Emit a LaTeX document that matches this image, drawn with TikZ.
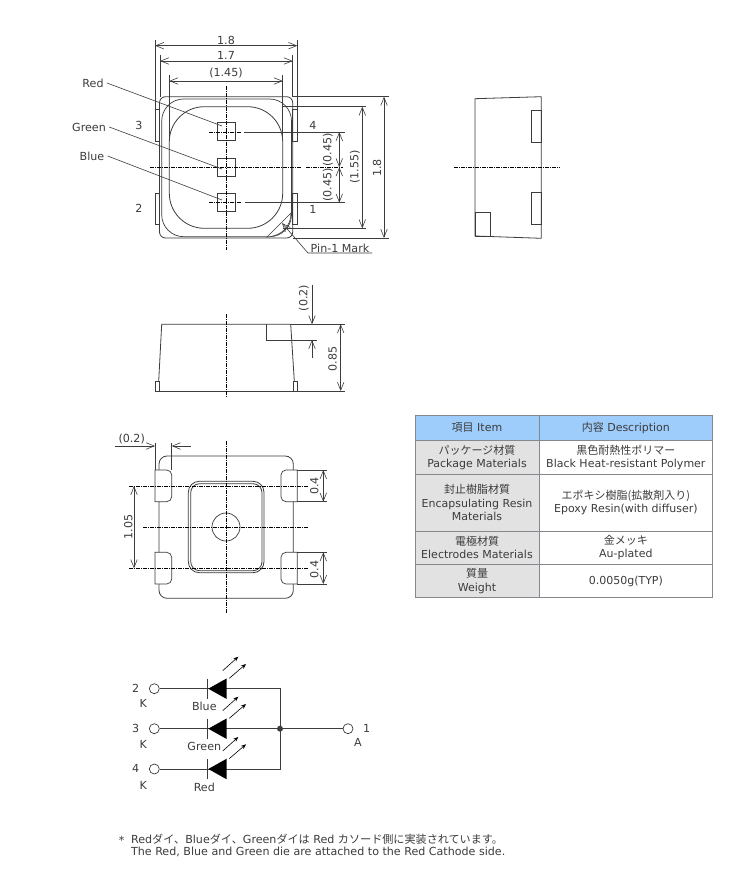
\documentclass[tikz,border=0pt]{standalone}
\usepackage{fontspec}
\setmainfont{DejaVu Sans}
\newfontfamily\cjk{Noto Sans CJK JP}
\usetikzlibrary{arrows.meta}
\definecolor{inkgray}{HTML}{3C3C3C}
\definecolor{headblue}{HTML}{9FCDFB}
\definecolor{cellgray}{HTML}{E2E2E2}
\definecolor{rulegray}{HTML}{84898E}
\newcommand{\jp}[1]{{\cjk #1}}
\begin{document}
\begin{tikzpicture}[x=1pt,y=-1pt,line width=0.8pt,draw=inkgray,text=inkgray,font=\fontsize{11.1}{13}\selectfont,>={Straight Barb[length=8pt,width=6.5pt]}]
    \tikzstyle{label}=[inner sep=0pt];
    \tikzstyle{thin line}=[line width=0.6pt];
    \tikzstyle{center line}=[line width=0.8pt,draw=black,dash pattern=on 4pt off 1pt on 1pt off 1pt];
    \tikzstyle{dim}=[<->,line width=0.6pt];
    \tikzstyle{pad}=[line width=0.7pt,fill=white];
    \tikzstyle{cell}=[draw=rulegray,line width=0.8pt,inner sep=0pt,align=center,font=\fontsize{11}{13.4}\selectfont];
    \tikzstyle{terminal}=[circle,draw,fill=white,minimum size=10pt,inner sep=0pt,line width=0.7pt];
    \useasboundingbox (0,0) rectangle (739,877);
    \fill[white] (0,0) rectangle (739,877);

    % Top view
    \draw[thin line] (155,109) rectangle (159.5,141.5);
    \draw[thin line] (155,193) rectangle (159.5,224);
    \draw[thin line] (292.7,109) rectangle (297.3,141.5);
    \draw[thin line] (292.7,193) rectangle (297.3,224);
    \draw[rounded corners=6pt,line width=0.8pt] (159.5,96.7) rectangle (292.7,238);
    \draw[rounded corners=22pt,line width=0.7pt] (161.7,99) rectangle (291.5,236.7);
    \draw[rounded corners=35pt,line width=0.8pt] (169.3,106.7) rectangle (282.7,228.3);
    \draw[thin line,fill=white] (267,237) -- (291,213) .. controls (291,225) and (283,236) .. (267,237) -- cycle;
    \draw[thin line] (217.3,122.7) rectangle (235.3,140.7);
    \draw[thin line] (217.3,158.3) rectangle (235.3,176.7);
    \draw[thin line] (217.3,193.3) rectangle (235.3,211.7);
    \draw[center line] (226,86) -- (226,250);
    \draw[center line] (150,167.3) -- (301.7,167.3);
    \draw[center line] (306,167.3) -- (343,167.3);
    \draw[center line] (209,132) -- (241.7,132);
    \draw[center line] (209,202.7) -- (241.7,202.7);
    \draw[thin line] (244,132) -- (345,132);
    \draw[thin line] (245,202.7) -- (345,202.7);
    % Top view dimensions
    \draw[thin line] (155,40) -- (155,109);
    \draw[thin line] (297.3,40) -- (297.3,109);
    \draw[thin line] (160,55) -- (160,97);
    \draw[thin line] (292.7,55) -- (292.7,97);
    \draw[thin line] (169.3,75) -- (169.3,140);
    \draw[thin line] (282.7,75) -- (282.7,140);
    \draw[dim] (155,45.7) -- (297.3,45.7);
    \draw[dim] (160,61) -- (292.7,61);
    \draw[dim] (169.3,81) -- (282.7,81);
    \node[label] (topW) at (226,40) {1.8};
    \node[label] (bodyW) at (226,55.5) {1.7};
    \node[label] (lensW) at (226,73) {(1.45)};
    \draw[thin line] (292.7,96.7) -- (389,96.7);
    \draw[thin line] (292.7,238) -- (389,238);
    \draw[thin line] (282.7,106.7) -- (366,106.7);
    \draw[thin line] (282.7,228.3) -- (366,228.3);
    \draw[dim] (339.3,132) -- (339.3,167.3);
    \draw[dim] (339.3,167.3) -- (339.3,202.7);
    \draw[dim] (362.3,106.7) -- (362.3,228.3);
    \draw[dim] (384,96.7) -- (384,238);
    \node[label,rotate=90] (dieUp) at (328,150) {(0.45)};
    \node[label,rotate=90] (dieDown) at (328,185) {(0.45)};
    \node[label,rotate=90] (lensH) at (355,167) {(1.55)};
    \node[label,rotate=90] (topH) at (377,168) {1.8};
    % Die labels and pins
    \node[label] (lblRed) at (93,83) {Red};
    \node[label] (lblGreen) at (89,127) {Green};
    \node[label] (lblBlue) at (92,156) {Blue};
    \coordinate (dieRed) at (222,126);
    \coordinate (dieGreen) at (222,169);
    \coordinate (dieBlue) at (222,200);
    \draw[thin line] (lblRed.east) ++(3,0) -- (dieRed);
    \draw[thin line] (lblGreen.east) ++(3,0) -- (dieGreen);
    \draw[thin line] (lblBlue.east) ++(3,0) -- (dieBlue);
    \node[label] (pinThree) at (139,125) {3};
    \node[label] (pinFour) at (313,125.7) {4};
    \node[label] (pinTwo) at (139,208) {2};
    \node[label] (pinOne) at (313,209) {1};
    \node[label] (lblMark) at (340,248) {Pin-1 Mark};
    \coordinate (markTip) at (282,223);
    \draw[thin line,->] (372,253) -- (308,253) -- (markTip);

    % Side view
    \draw (475,98.7) -- (541.3,96.7) -- (541.3,238.3) -- (475,236) -- cycle;
    \draw[thin line] (531.7,110.3) rectangle (541.3,142);
    \draw[thin line] (531.7,192.7) rectangle (541.3,224.3);
    \draw[thin line] (475,212.3) rectangle (490.7,236.7);
    \draw[center line] (454.3,167.3) -- (560,167.3);

    % Front view
    \draw (158.7,381) -- (161.7,324.3) -- (290.7,324.3) -- (294.3,381);
    \draw (155,391) -- (297.3,391);
    \draw[thin line] (155,391) -- (155,381) -- (159.3,381) -- (159.3,391);
    \draw[thin line] (293.3,391) -- (293.3,381) -- (297.3,381) -- (297.3,391);
    \draw[thin line] (266.7,324.3) -- (266.7,340) -- (316.7,340);
    \draw[thin line] (290.7,324.3) -- (345,324.3);
    \draw[thin line] (297.3,391) -- (345,391);
    \draw[center line] (226,314) -- (226,396.7);
    \draw[thin line,->] (312,285) -- (312,324.3);
    \draw[thin line,->] (312,358) -- (312,340);
    \draw[dim] (340.7,324.3) -- (340.7,391);
    \node[label,rotate=90] (notchH) at (304,298) {(0.2)};
    \node[label,rotate=90] (frontH) at (332.7,359) {0.85};

    % Bottom view
    \draw[rounded corners=8pt] (159,456) rectangle (293.3,598.3);
    \foreach \ytop/\ybot in {470/501.7,552.3/584} {
      \draw[pad] (155,\ytop) [rounded corners=5pt] -- (171.7,\ytop) -- (171.7,\ybot) [sharp corners] -- (155,\ybot) -- cycle;
      \draw[pad] (297.3,\ytop) [rounded corners=5pt] -- (281,\ytop) -- (281,\ybot) [sharp corners] -- (297.3,\ybot) -- cycle;
    }
    \draw[rounded corners=11pt] (188.3,481.3) rectangle (264,572.7);
    \draw[rounded corners=9pt] (190.7,483.7) rectangle (262,570.7);
    \node[circle,draw,minimum size=28pt,inner sep=0pt,line width=0.7pt] (gate) at (226,527) {};
    \draw[center line] (226,441) -- (226,613);
    \draw[center line] (143.3,527) -- (309.3,527);
    \draw[center line] (129.3,486) -- (308.3,486);
    \draw[center line] (129.3,568.3) -- (308.3,568.3);
    \draw[thin line] (155,443.3) -- (155,470);
    \draw[thin line] (171.7,443.3) -- (171.7,470);
    \draw[thin line,->] (115,446) -- (155,446);
    \draw[thin line,->] (190.7,446) -- (171.7,446);
    \node[label] (padW) at (131.7,439) {(0.2)};
    \draw[dim] (134,486) -- (134,568.3);
    \node[label,rotate=90] (padGap) at (128.3,526.7) {1.05};
    \foreach \ytop/\ybot/\ymid/\nm in {470/501.7/486/padTop,552.3/584/569.3/padBot} {
      \draw[thin line] (297.3,\ytop) -- (326.7,\ytop);
      \draw[thin line] (297.3,\ybot) -- (326.7,\ybot);
      \draw[dim] (323.3,\ytop) -- (323.3,\ybot);
      \node[label,rotate=90] (\nm) at (314.3,\ymid) {0.4};
    }

    % Table
    \node[cell,fill=headblue,minimum width=124pt,minimum height=25.7pt] (headA) at (477,427.85) {\jp{項目} Item};
    \node[cell,fill=headblue,minimum width=173.7pt,minimum height=25.7pt] (headB) at (625.85,427.85) {\jp{内容} Description};
    \node[cell,fill=cellgray,minimum width=124pt,minimum height=33.6pt] (rowAa) at (477,457.5) {\jp{パッケージ材質}\\Package Materials};
    \node[cell,minimum width=173.7pt,minimum height=33.6pt] (rowAb) at (625.85,457.5) {\jp{黒色耐熱性ポリマー}\\Black Heat-resistant Polymer};
    \node[cell,fill=cellgray,minimum width=124pt,minimum height=56.7pt] (rowBa) at (477,502.65) {\jp{封止樹脂材質}\\Encapsulating Resin\\Materials};
    \node[cell,minimum width=173.7pt,minimum height=56.7pt] (rowBb) at (625.85,502.65) {\jp{エポキシ樹脂(拡散剤入り)}\\Epoxy Resin(with diffuser)};
    \node[cell,fill=cellgray,minimum width=124pt,minimum height=33.3pt] (rowCa) at (477,547.65) {\jp{電極材質}\\Electrodes Materials};
    \node[cell,minimum width=173.7pt,minimum height=33.3pt] (rowCb) at (625.85,547.65) {\jp{金メッキ}\\Au-plated};
    \node[cell,fill=cellgray,minimum width=124pt,minimum height=33.4pt] (rowDa) at (477,581) {\jp{質量}\\Weight};
    \node[cell,minimum width=173.7pt,minimum height=33.4pt] (rowDb) at (625.85,581) {0.0050g(TYP)};

    % Circuit
    \node[terminal] (termTwo) at (154.3,688.7) {};
    \node[terminal] (termThree) at (154.3,728.7) {};
    \node[terminal] (termFour) at (154.3,769) {};
    \node[terminal] (termOne) at (348,728.7) {};
    \node[circle,fill=inkgray,minimum size=6pt,inner sep=0pt] (junction) at (280,728.7) {};
    \coordinate (busTop) at (280,688.7);
    \coordinate (busBot) at (280,769);
    \draw (termTwo) -- (busTop) -- (busBot) -- (termFour);
    \draw (termThree) -- (termOne);
    \foreach \ypos in {688.7,728.7,769} {
      \fill[black] (208.3,\ypos) -- (226.7,\ypos-10.3) -- (226.7,\ypos+10.3) -- cycle;
      \draw[thin line] (207.3,\ypos-10) -- (207.3,\ypos+10);
      \draw[thin line,-{Stealth[length=5pt,width=4pt]},black] (222.7,\ypos-18) -- (238.3,\ypos-32);
      \draw[thin line,-{Stealth[length=5pt,width=4pt]},black] (229.3,\ypos-10.4) -- (246,\ypos-24.7);
    }
    \node[label] (numTwo) at (135.7,688.3) {2};
    \node[label] (numThree) at (135.7,728.3) {3};
    \node[label] (numFour) at (135.7,768.3) {4};
    \node[label] (numOne) at (366.7,728.7) {1};
    \node[label] (katTwo) at (143.3,703.3) {K};
    \node[label] (katThree) at (143.3,744) {K};
    \node[label] (katFour) at (143.3,785.7) {K};
    \node[label] (anode) at (358,742.3) {A};
    \node[label] (ledBlue) at (204.3,706) {Blue};
    \node[label] (ledGreen) at (204.3,746) {Green};
    \node[label] (ledRed) at (204.3,787.7) {Red};

    % Note
    \node[label] (star) at (121.7,840) {*};
    \node[label,anchor=west] (noteJp) at (130.7,839.7) {Red\jp{ダイ、}Blue\jp{ダイ、}Green\jp{ダイは} Red \jp{カソード側に実装されています。}};
    \node[label,anchor=west] (noteEn) at (130.7,851.7) {The Red, Blue and Green die are attached to the Red Cathode side.};
\end{tikzpicture}
\end{document}
